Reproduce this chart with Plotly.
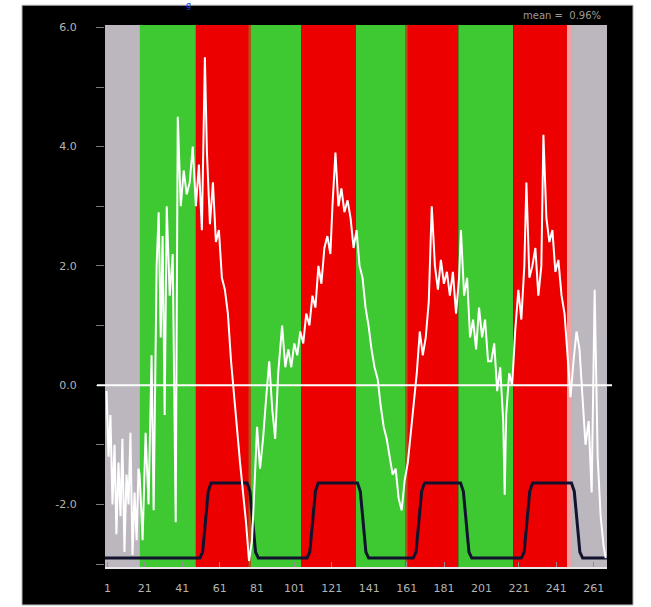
import plotly.graph_objects as go

# ---- data ----
# white series (x index, value in %)
wx = [0.5, 1.6, 2.6, 3.7, 4.8, 5.8, 6.9, 8.0, 9.0, 10.1, 11.2, 12.3, 13.3, 14.4, 15.5, 16.6, 17.6,
      18.2, 19.8, 21.4, 23.0, 24.6, 25.7, 27.3, 28.4, 29.5, 30.5, 31.6, 32.7, 34.3, 35.9, 37.5, 38.6,
      40.2, 41.8, 43.4, 45.0, 46.6, 48.3, 49.9, 51.5, 53.1, 54.2, 55.8, 57.4, 59.0, 60.6, 62.2, 63.8,
      65.4, 67.1, 68.7, 70.3, 71.9, 73.5, 75.1, 76.7, 78.3, 79.9, 81.0, 82.6, 84.2, 85.9, 87.5, 89.1,
      90.7, 92.3, 94.4, 96.1, 97.7, 99.3, 100.9, 102.5, 104.1, 105.7, 107.3, 109.0, 110.6, 112.2,
      113.8, 115.4, 117.0, 118.6, 120.2, 121.3, 122.9, 124.5, 126.1, 127.7, 129.4, 131.0, 132.6,
      134.2, 135.8, 137.4, 139.0, 140.6, 142.2, 143.8, 145.5, 147.1, 148.7, 150.3, 151.9, 153.5,
      155.1, 156.7, 158.3, 159.9, 161.6, 163.2, 164.8, 166.4, 168.0, 169.6, 171.2, 172.8, 174.4,
      176.1, 177.7, 179.3, 180.9, 182.5, 184.1, 185.7, 187.4, 189.0, 190.0, 191.7, 193.3, 194.9,
      196.5, 198.1, 199.7, 201.3, 202.9, 204.5, 206.2, 207.8, 209.4, 211.0, 212.6, 213.4, 214.2,
      215.8, 217.4, 219.0, 220.7, 222.3, 223.9, 225.0, 226.6, 228.2, 229.8, 231.4, 233.0, 234.1,
      235.7, 237.3, 238.9, 240.5, 242.1, 243.8, 245.4, 247.0, 248.6, 250.2, 251.8, 253.4, 255.0,
      256.6, 258.3, 259.9, 261.5, 263.1, 264.7, 266.3, 267.4]
wy = [-0.1, -1.2, -0.5, -2.0, -1.0, -2.5, -1.3, -2.2, -0.9, -2.8, -1.5, -2.0, -0.8, -2.85, -1.8, -2.6, -1.4,
      -1.5, -2.6, -0.8, -2.0, 0.5, -2.1, 2.0, 2.9, 0.8, 2.5, -0.5, 3.0, 1.5, 2.2, -2.3, 4.5,
      3.0, 3.6, 3.2, 3.4, 4.0, 3.0, 3.7, 2.6, 5.5, 3.9, 2.7, 3.4, 2.4, 2.6, 1.8, 1.6,
      1.2, 0.4, -0.2, -0.7, -1.3, -1.8, -2.3, -2.95, -2.6, -1.5, -0.7, -1.4, -0.9, -0.2, 0.4, -0.4,
      -0.9, 0.2, 1.0, 0.3, 0.6, 0.3, 0.7, 0.5, 0.9, 0.7, 1.2, 1.0, 1.5, 1.3,
      2.0, 1.7, 2.3, 2.5, 2.2, 3.0, 3.9, 3.0, 3.3, 2.9, 3.1, 2.8, 2.3,
      2.6, 2.0, 1.8, 1.3, 1.0, 0.6, 0.3, 0.1, -0.35, -0.7, -0.9, -1.2, -1.5,
      -1.4, -1.9, -2.1, -1.6, -1.3, -0.8, -0.4, 0.2, 0.9, 0.5, 0.8, 1.4, 3.0,
      2.0, 1.6, 2.1, 1.7, 1.9, 1.5, 1.9, 1.2, 1.8, 2.6, 1.5, 1.8, 0.8,
      1.1, 0.6, 1.3, 0.8, 1.1, 0.4, 0.4, 0.7, -0.1, 0.3, -0.6, -1.84, -0.5,
      0.2, 0.0, 0.9, 1.6, 1.1, 2.0, 3.4, 1.8, 2.0, 2.3, 1.5, 2.0, 4.2,
      2.8, 2.4, 2.6, 1.9, 2.1, 1.5, 1.2, 0.4, -0.2, 0.4, 0.9, 0.6, -0.3,
      -1.0, -0.6, -1.8, 1.6, -1.2, -2.2, -2.7, -2.9]

# dark step indicator
bx = [-0.3, 50.4, 51.9, 53.4, 54.9, 56.4, 75.7, 77.2, 78.7, 80.2, 81.7,
      107.7, 109.2, 110.7, 112.2, 113.7, 134.7, 136.2, 137.7, 139.2, 140.7,
      164.5, 166.0, 167.5, 169.0, 170.5, 189.8, 191.3, 192.8, 194.3, 195.8,
      222.3, 223.8, 225.3, 226.8, 228.3, 249.1, 250.6, 252.1, 253.6, 255.1, 268.0]
by = [-2.9, -2.9, -2.8, -2.3, -1.78, -1.64, -1.64, -1.78, -2.3, -2.8, -2.9,
      -2.9, -2.8, -2.3, -1.78, -1.64, -1.64, -1.78, -2.3, -2.8, -2.9,
      -2.9, -2.8, -2.3, -1.78, -1.64, -1.64, -1.78, -2.3, -2.8, -2.9,
      -2.9, -2.8, -2.3, -1.78, -1.64, -1.64, -1.78, -2.3, -2.8, -2.9, -2.9]

# background regime bands: (start, end, regime)
band_start = [-0.3, 18.4, 48.3, 77.1, 104.5, 133.9, 160.8, 188.6, 218.0, 246.7, 249.4]
band_end = [18.4, 48.3, 77.1, 104.5, 133.9, 160.8, 188.6, 218.0, 246.7, 249.4, 268.1]
band_kind = ["none", "up", "down", "up", "down", "up", "down", "up", "down", "edge", "none"]

xtick_vals = [1, 21, 41, 61, 81, 101, 121, 141, 161, 181, 201, 221, 241, 261]
ytick_vals = [-2, 0, 2, 4, 6]
ytick_text = ["-2.0", "0.0", "2.0", "4.0", "6.0"]
mean_text = "mean =  0.96%"

kind_color = {"none": "#bcb6be", "up": "#3ec832", "down": "#ec0000", "edge": "#f2a0a0"}

fig = go.Figure()

shapes = []
# black panel behind everything
shapes.append(dict(type="rect", xref="paper", yref="paper", x0=-0.1653, x1=1.0518, y0=-0.07, y1=1.0365,
                   fillcolor="black", line=dict(color="#b0b0b0", width=1), layer="below"))
for s, e, k in zip(band_start, band_end, band_kind):
    shapes.append(dict(type="rect", xref="x", yref="paper", x0=s, x1=e, y0=0, y1=1,
                       fillcolor=kind_color[k], line=dict(width=0), layer="below"))
# brownish seams
for xv in [77.1, 160.8]:
    shapes.append(dict(type="line", xref="x", yref="paper", x0=xv, x1=xv, y0=0, y1=1,
                       line=dict(color="#a8581a", width=2.5), layer="below"))
# zero line
shapes.append(dict(type="line", xref="paper", yref="y", x0=-0.016, x1=1.01, y0=0, y1=0,
                   line=dict(color="white", width=2), layer="above"))

fig.add_trace(go.Scatter(x=bx, y=by, mode="lines", line=dict(color="#12122e", width=3),
                         hoverinfo="skip", showlegend=False))
fig.add_trace(go.Scatter(x=wx, y=wy, mode="lines", line=dict(color="white", width=2),
                         showlegend=False))

tickfont = dict(family="DejaVu Sans", size=11, color="#b4b4b4")
fig.update_layout(
    width=651, height=607,
    margin=dict(l=105, r=44, t=25, b=34),
    paper_bgcolor="white", plot_bgcolor="black",
    shapes=shapes,
    showlegend=False,
    xaxis=dict(range=[-0.3, 268.1], tickvals=xtick_vals, ticks="inside", ticklen=5,
               tickcolor="#909090", showgrid=False, zeroline=False, showline=True,
               linecolor="#e6e6e6", linewidth=2, tickfont=tickfont, ticklabelstandoff=10),
    yaxis=dict(range=[-3.05, 6.04], tickvals=ytick_vals, ticktext=ytick_text, ticks="outside",
               ticklen=8, tickcolor="#7a7a7a", showgrid=False, zeroline=False, showline=False,
               tickfont=tickfont, ticklabelstandoff=17,
               minor=dict(dtick=1, tick0=0, ticks="outside", ticklen=8, tickcolor="#7a7a7a", showgrid=False)),
    annotations=[
        dict(text=mean_text, xref="paper", yref="paper", x=0.992, y=1.018, xanchor="right",
             yanchor="middle", showarrow=False, font=dict(family="DejaVu Sans", size=10, color="#9a9a9a")),
        dict(text="g", xref="paper", yref="paper", x=0.167, y=1.0456, xanchor="center",
             yanchor="top", showarrow=False, borderpad=0,
             font=dict(family="DejaVu Sans", size=8, color="#1a3cff")),
    ],
)

fig.write_html("out.html")
